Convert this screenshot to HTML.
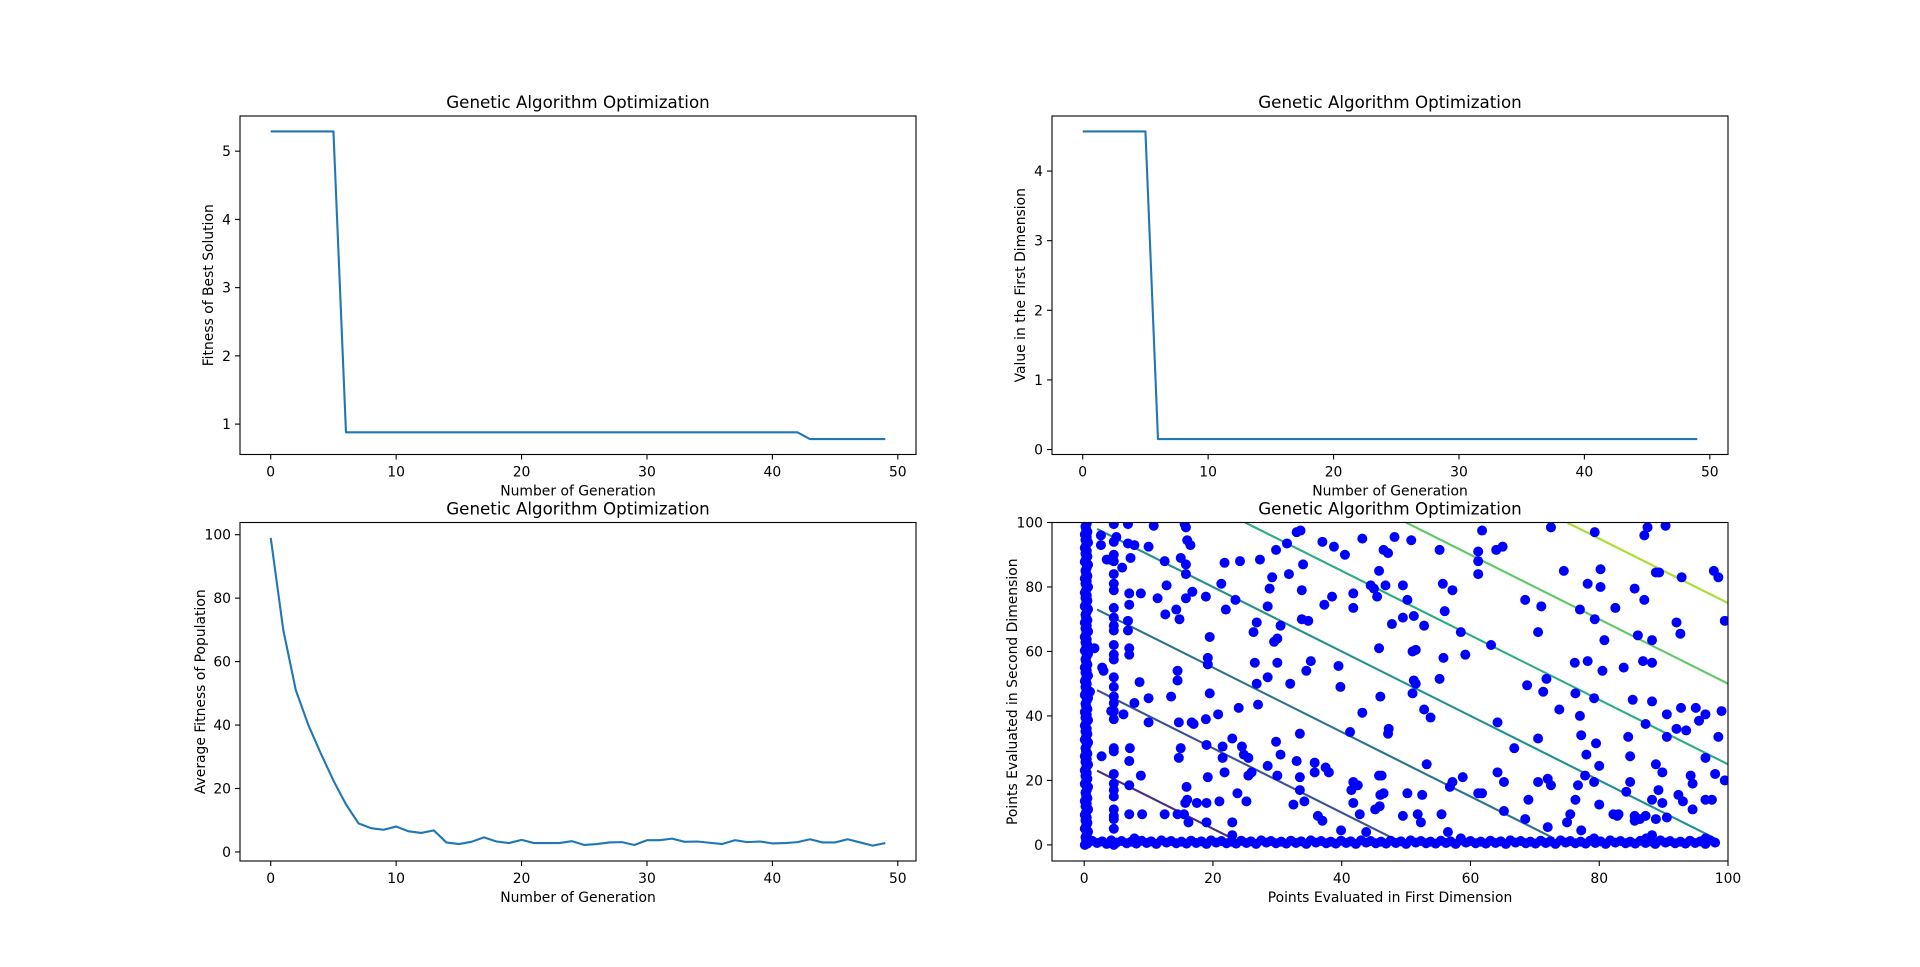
<!DOCTYPE html>
<html><head><meta charset="utf-8">
<style>
html,body{margin:0;padding:0;background:#fff;}
svg{display:block;font-family:"DejaVu Sans","Liberation Sans",sans-serif;}
</style></head>
<body>
<svg id="fig" width="1920" height="967" viewBox="0 0 1920 967" xmlns="http://www.w3.org/2000/svg">
<rect width="1920" height="967" fill="#fff"/>
</svg>
<script>
// ---- data ----
const generations = [0,1,2,3,4,5,6,7,8,9,10,11,12,13,14,15,16,17,18,19,20,21,22,23,24,25,26,27,28,29,30,31,32,33,34,35,36,37,38,39,40,41,42,43,44,45,46,47,48,49];
const bestFitness = [5.29,5.29,5.29,5.29,5.29,5.29,0.88,0.88,0.88,0.88,0.88,0.88,0.88,0.88,0.88,0.88,0.88,0.88,0.88,0.88,0.88,0.88,0.88,0.88,0.88,0.88,0.88,0.88,0.88,0.88,0.88,0.88,0.88,0.88,0.88,0.88,0.88,0.88,0.88,0.88,0.88,0.88,0.88,0.78,0.78,0.78,0.78,0.78,0.78,0.78];
const firstDimValue = [4.57,4.57,4.57,4.57,4.57,4.57,0.15,0.15,0.15,0.15,0.15,0.15,0.15,0.15,0.15,0.15,0.15,0.15,0.15,0.15,0.15,0.15,0.15,0.15,0.15,0.15,0.15,0.15,0.15,0.15,0.15,0.15,0.15,0.15,0.15,0.15,0.15,0.15,0.15,0.15,0.15,0.15,0.15,0.15,0.15,0.15,0.15,0.15,0.15,0.15];
const avgFitness = [99,70,51,40,31,22.5,15,9,7.5,7,8,6.5,6,6.8,3,2.5,3.2,4.6,3.3,2.8,3.8,2.8,2.8,2.8,3.4,2.2,2.5,3,3.1,2.2,3.7,3.7,4.2,3.2,3.3,2.9,2.5,3.7,3.1,3.3,2.7,2.8,3.1,4,3,3,4,3,2,2.8];
const genTicks = [0,10,20,30,40,50];
const bestTicks = [1,2,3,4,5];
const dimTicks = [0,1,2,3,4];
const avgTicks = [0,20,40,60,80,100];
const pointTicks = [0,20,40,60,80,100];
const contourLevels = [25,50,75,100,125,150,175];
const contourColors = ["#472d7b","#3b528b","#2c728e","#21918c","#28ae80","#5ec962","#addc30"];
const scatterPts = [[2.6,93],[2.6,96],[3.5,88.5],[4.6,99.5],[4.6,94],[4.6,90],[4.6,88],[5,95.5],[6.8,93.5],[7.8,93],[6.8,99.5],[10.8,99],[10,92.5],[12.5,88],[15.6,99.5],[15.8,98.5],[16,94.5],[16.5,93],[15,89],[15.8,87],[15.8,84],[16.8,78.5],[15.8,76.5],[12.8,80.5],[11.4,76.5],[8.8,78],[7,78],[7,74.5],[5.9,86],[7.2,89],[4,88.5],[4.6,84],[4.6,81],[4.6,79],[4.6,73.5],[4.6,70.5],[4.6,68],[4.6,66.5],[4.6,62],[4.6,59],[4.6,57.5],[4.6,52],[4.6,49],[4.6,46],[4.6,44],[4.6,41.5],[4.6,39],[4.6,30],[4.6,29],[4.6,22],[4.6,19],[4.6,17],[4.6,15],[4.6,11],[4.6,9],[4.6,8],[4.6,5],[4.6,0],[6.1,40.5],[7.8,44],[8.6,50.5],[6.8,69.5],[6.8,66.5],[7,61],[7,59],[2.8,55],[3,54],[1.6,61],[0.9,47.5],[2.7,27.5],[4.2,41.5],[7.1,30],[7,26],[7,18.5],[7,9.5],[7.8,2],[8.8,21.5],[9,9.5],[10,45.5],[10,38],[12.5,9.5],[12.6,71.5],[13.5,46],[14.3,73],[14.5,54],[14.5,51],[14.8,70],[14.7,38],[15,30],[14.7,27],[14.5,9.5],[15.5,9.5],[15.9,18],[15.7,13],[16,14],[16.2,7],[17.5,13],[16.7,38],[17,37.5],[18.9,77],[18.9,39],[19,31],[19.2,58],[19.2,56],[19.5,47],[19.5,64.5],[19.2,21],[19,13],[19,7],[20.8,40.5],[21.3,81],[21.5,30.5],[21.5,27],[21.8,22.5],[21,13.5],[21.8,87.5],[22,73],[23,7],[23,3],[23,33],[23.5,76],[23.8,16],[24,42.5],[24.2,88],[24.5,30.5],[24.8,28],[25.5,27],[25.5,21.5],[26,22.5],[25.2,13.5],[26.3,66],[26.5,56.5],[26.8,69],[26.8,50],[27,43.5],[27.3,88.5],[28.5,74],[28.5,52],[28.5,24.5],[28.8,79.5],[29.2,83],[29.5,63],[30,64],[30,56.5],[29.8,91.5],[29.8,32],[30,21.5],[30.5,68],[30.5,28],[31.5,93.5],[31.8,84],[32,50],[32.5,12.5],[33,97],[33.6,97.5],[33,26],[33.5,34.5],[33.5,21],[33.5,17],[33.8,70],[33.8,79],[34,87],[34.2,13.5],[34.5,54],[34.8,69.5],[35.2,57],[35.8,25.5],[35.8,22.5],[36.3,9],[37,94],[37,7.5],[37.3,74.5],[37.5,24],[38,22.5],[38.5,77],[38.8,92.5],[39.8,49],[39.5,55.5],[39.9,4.5],[40.5,90],[41.3,35],[41.5,17],[41.8,19.5],[41.8,13],[41.8,78],[41.8,73.5],[42.5,18.5],[42.8,9.5],[43.2,41],[43.2,95],[43.8,4],[44.5,80.5],[45,79.5],[45.2,11],[45.5,77],[45.8,85],[45.8,61],[45.8,21.5],[46,15.5],[45.9,12],[46,46],[46.2,21.5],[46.5,16],[46.5,91.5],[46.8,80.5],[47.2,90.5],[47.3,36],[47.2,34.5],[47.8,68.5],[48.2,95.5],[49.5,70.5],[49.5,80.5],[49.5,9],[50.2,76],[50.2,16],[50.8,94.5],[51,60],[51.5,60.5],[51.2,51],[51.5,50],[51,47],[51.2,71],[51.8,9.5],[52.5,15.5],[52.3,7],[52.8,42],[53.2,25],[52.8,68],[53.8,39.5],[55.2,91.5],[55.2,51.5],[55.7,81],[55.8,58],[55.5,9.5],[56,72.5],[56.5,4],[56.8,18],[57.2,19.5],[57.2,79],[58.5,66],[58.5,2],[59.2,59],[58.8,21],[61.2,91],[61.2,88],[61.2,84],[61.2,16],[61.8,16],[61.8,97.5],[63.2,62],[64,91.5],[65,92.5],[64.2,22.5],[64.2,38],[65.2,19.5],[65.2,10.5],[66.8,30],[68.5,8],[68.5,76],[68.8,49.5],[69,14],[70.5,66],[70.5,33],[70.5,19.5],[71,74],[71.3,47.5],[71.8,51.5],[72,20.5],[72,5.5],[72.5,18.5],[72.5,98.5],[73.8,42],[74.5,85],[75,7],[75.5,9.5],[76.2,56.5],[76.3,47],[76.3,14],[76.7,18.5],[77,73],[77,40],[77.2,34],[77.2,4.5],[77.8,21.5],[78,28],[78.2,81],[78.2,57],[79.3,70],[79.3,97],[79.2,45.5],[79.5,31.5],[79.2,19.5],[79.2,2],[80,24.5],[80,12.5],[80.2,85.5],[80.2,80],[80.5,54],[80.8,63.5],[82.2,9.5],[82.5,73.5],[82.8,9],[83,9.5],[83.8,55],[84.2,16.5],[84.5,33.5],[84.8,19.5],[84.8,27.5],[85.2,45],[85.5,79.5],[85.5,9],[85.5,7.5],[86,65],[86.3,8],[86.8,57],[87,96],[87,76],[87.2,37.5],[87.2,9],[87.3,2],[87.5,98.5],[88.2,63.5],[88.2,56.5],[88.2,44.5],[88.2,14],[88.2,3],[88.8,84.5],[88.8,25],[89.2,17],[88.8,8],[89.3,84.5],[89.8,13],[89.8,22.5],[90.3,99],[90.5,40.5],[90.5,33.5],[90.5,8.5],[92,69],[92,36],[92.3,15.5],[92.6,65.5],[92.7,42.5],[92.8,83],[93,13.5],[93.5,35.5],[94.2,21.5],[94.5,19],[94.5,11],[95,42.5],[95.5,38.5],[96.5,40.5],[96.5,14],[96.5,27],[97.5,14],[97.8,85],[98,22],[98.5,83],[98.5,33.5],[99,41.5],[99.5,20],[99.5,69.5],[96.5,2]];
const edgeColumnY = [0,0.8,1.5,2.4,3.2,4.1,5,5.9,6.8,7.6,8.5,9.3,10.1,11,12,12.8,13.6,14.5,15.4,16.2,17,18,18.9,19.7,20.5,21.4,22.3,23.1,24,24.9,25.8,26.6,27.5,28.3,29.1,30,31,31.8,32.6,33.5,34.4,35.2,36,37,37.9,38.7,39.5,40.3,41.2,42.1,43,43.8,44.7,45.6,46.5,47.3,48.1,49,50,50.8,51.6,52.5,53.4,54.2,55,55.9,56.8,57.6,58.5,59.3,60.2,61.1,62,62.8,63.7,64.5,65.4,66.2,67.1,68,68.9,69.7,70.5,71.4,72.3,73.1,74,74.9,75.8,76.6,77.4,78.2,79.1,80,81,81.8,82.6,83.4,84.3,85.1,86,86.9,87.8,88.6,89.5,90.3,91.2,92.1,93,93.8,94.6,95.4,96.3,97.1,98,98.8,99.7];
const edgeColumnX = [0.1,0.5,0.3,0.2,0.4,0.6,0.1,0.3,0.5,0.2,0.4,0.1,0.3,0.6,0.2,0.4,0.1,0.5,0.3,0.2,0.4,0.6,0.1,0.3,0.5,0.2,0.4,0.1,0.3,0.6,0.2,0.4,0.1,0.5,0.3,0.2,0.4,0.6,0.1,0.3,0.5,0.2,0.4,0.1,0.3,0.6,0.2,0.4,0.1,0.5,0.3,0.2,0.4,0.6,0.1,0.3,0.5,0.2,0.4,0.1,0.3,0.6,0.2,0.4,0.1,0.5,0.3,0.2,0.4,0.6,0.1,0.3,0.5,0.2,0.4,0.1,0.3,0.6,0.2,0.4,0.1,0.5,0.3,0.2,0.4,0.6,0.1,0.3,0.5,0.2,0.4,0.1,0.3,0.6,0.2,0.4,0.1,0.5,0.3,0.2,0.4,0.6,0.1,0.3,0.5,0.2,0.4,0.1,0.3,0.6,0.2,0.4,0.1,0.5,0.3,0.2,0.4,0.6];
const edgeRowX = [0.5,1.2,2,2.8,3.5,4.2,5,5.8,6.6,7.3,8.1,8.9,9.7,10.4,11.2,12,12.8,13.5,14.3,15.1,15.9,16.6,17.4,18.2,19,19.7,20.5,21.3,22.1,22.8,23.6,24.4,25.2,25.9,26.7,27.5,28.3,29,29.8,30.6,31.4,32.1,32.9,33.7,34.5,35.2,36,36.8,37.6,38.3,39.1,39.9,40.7,41.4,42.2,43,43.8,44.5,45.3,46.1,46.9,47.6,48.4,49.2,50,50.7,51.5,52.3,53.1,53.8,54.6,55.4,56.2,56.9,57.7,58.5,59.3,60,60.8,61.6,62.4,63.1,63.9,64.7,65.5,66.2,67,67.8,68.6,69.3,70.1,70.9,71.7,72.4,73.2,74,74.8,75.5,76.3,77.1,77.9,78.6,79.4,80.2,81,81.7,82.5,83.3,84.1,84.8,85.6,86.4,87.2,87.9,88.7,89.5,90.3,91,91.8,92.6,93.4,94.1,94.9,95.7,96.5,97.2,98,98.8,99.5];
const edgeRowY = [0.4,1.3,0.6,1.1,0.3,1.4,0.7,1.2,0.5,1.0,0.4,1.3,0.6,1.1,0.3,1.4,0.7,1.2,0.5,1.0,0.4,1.3,0.6,1.1,0.3,1.4,0.7,1.2,0.5,1.0,0.4,1.3,0.6,1.1,0.3,1.4,0.7,1.2,0.5,1.0,0.4,1.3,0.6,1.1,0.3,1.4,0.7,1.2,0.5,1.0,0.4,1.3,0.6,1.1,0.3,1.4,0.7,1.2,0.5,1.0,0.4,1.3,0.6,1.1,0.3,1.4,0.7,1.2,0.5,1.0,0.4,1.3,0.6,1.1,0.3,1.4,0.7,1.2,0.5,1.0,0.4,1.3,0.6,1.1,0.3,1.4,0.7,1.2,0.5,1.0,0.4,1.3,0.6,1.1,0.3,1.4,0.7,1.2,0.5,1.0,0.4,1.3,0.6,1.1,0.3,1.4,0.7,1.2,0.5,1.0,0.4,1.3,0.6,1.1,0.3,1.4,0.7,1.2,0.5,1.0,0.4,1.3,0.6,1.1,0.3,1.4,0.7];

const NS='http://www.w3.org/2000/svg';
const svg=document.getElementById('fig');
function el(tag,attrs,parent){const e=document.createElementNS(NS,tag);for(const k in attrs)e.setAttribute(k,attrs[k]);(parent||svg).appendChild(e);return e;}
function ext(arr){const mn=Math.min(...arr),mx=Math.max(...arr),m=(mx-mn)*0.05;return [mn-m,mx+m];}

function makeAxes(id,box,xlim,ylim,xticks,yticks,title,xlabel,ylabel){
  const g=el('g',{});
  
  
  const [L,T,R,B]=box;
  const sx=v=>L+(v-xlim[0])/(xlim[1]-xlim[0])*(R-L);
  const sy=v=>B-(v-ylim[0])/(ylim[1]-ylim[0])*(B-T);
  const cp=el('clipPath',{id:id+'-clip'},g);
  el('rect',{x:L,y:T,width:R-L,height:B-T},cp);
  const plot=el('g',{'clip-path':'url(#'+id+'-clip)'},g);
  xticks.forEach(t=>{const x=sx(t);
    el('line',{x1:x,x2:x,y1:B,y2:B+5,stroke:'#000','stroke-width':1.1},g);
    const tx=el('text',{x:x,y:B+22,'text-anchor':'middle','font-size':13.9,fill:'#000'},g);tx.textContent=t;
    
    });
  yticks.forEach(t=>{const y=sy(t);
    el('line',{x1:L-5,x2:L,y1:y,y2:y,stroke:'#000','stroke-width':1.1},g);
    const tx=el('text',{x:L-9,y:y+5,'text-anchor':'end','font-size':13.9,fill:'#000'},g);tx.textContent=t;
    
    });
  const tt=el('text',{x:(L+R)/2,y:T-8,'text-anchor':'middle','font-size':16.7,fill:'#000'},g);tt.textContent=title;
  
  
  const xl=el('text',{x:(L+R)/2,y:B+41,'text-anchor':'middle','font-size':13.9,fill:'#000'},g);xl.textContent=xlabel;
  
  
  const yx=L-ylabelOffset[id];
  const yl=el('text',{x:yx,y:(T+B)/2,'text-anchor':'middle','font-size':13.9,fill:'#000',transform:'rotate(-90 '+yx+' '+(T+B)/2+')'},g);yl.textContent=ylabel;
  
  
  return {g,plot,sx,sy,frame:()=>{const f=el('rect',{x:L,y:T,width:R-L,height:B-T,fill:'none',stroke:'#000','stroke-width':1.1},g);
    
    }};
}
const ylabelOffset={'best-fitness-chart':27,'first-dim-chart':27,'avg-fitness-chart':35,'points-chart':35};

function lineSeries(ax,xs,ys,name){
  const d=xs.map((x,i)=>(i?'L':'M')+ax.sx(x).toFixed(2)+' '+ax.sy(ys[i]).toFixed(2)).join(' ');
  const p=el('path',{d:d,fill:'none',stroke:'#1f77b4','stroke-width':2.1,'stroke-linejoin':'round'},ax.plot);
  
  
}

const colL=[240,916],colR=[1052,1728],rowT=[116,454.5],rowB=[522.5,861];

const a1=makeAxes('best-fitness-chart',[colL[0],rowT[0],colL[1],rowT[1]],ext(generations),ext(bestFitness),genTicks,bestTicks,'Genetic Algorithm Optimization','Number of Generation','Fitness of Best Solution');
lineSeries(a1,generations,bestFitness,'best-fitness-line');a1.frame();

const a2=makeAxes('first-dim-chart',[colR[0],rowT[0],colR[1],rowT[1]],ext(generations),ext(firstDimValue),genTicks,dimTicks,'Genetic Algorithm Optimization','Number of Generation','Value in the First Dimension');
lineSeries(a2,generations,firstDimValue,'first-dim-line');a2.frame();

const a3=makeAxes('avg-fitness-chart',[colL[0],rowB[0],colL[1],rowB[1]],ext(generations),ext(avgFitness),genTicks,avgTicks,'Genetic Algorithm Optimization','Number of Generation','Average Fitness of Population');
lineSeries(a3,generations,avgFitness,'avg-fitness-line');a3.frame();

const a4=makeAxes('points-chart',[colR[0],rowB[0],colR[1],rowB[1]],[-5,100],[-5,100],pointTicks,pointTicks,'Genetic Algorithm Optimization','Points Evaluated in First Dimension','Points Evaluated in Second Dimension');
contourLevels.forEach((c,i)=>{
  const lo=2,hi=100;
  const x1=Math.max(lo,c-hi),y1=c-x1;
  const y2=Math.max(lo,c-hi),x2=c-y2;
  const ln=el('line',{x1:a4.sx(x1),y1:a4.sy(Math.min(y1,hi)),x2:a4.sx(Math.min(x2,hi)),y2:a4.sy(y2),stroke:contourColors[i],'stroke-width':2.1},a4.plot);
  
  
});
function dot(x,y){
  const c=el('circle',{cx:a4.sx(x),cy:a4.sy(y),r:5,fill:'#0000ff'},a4.plot);
  
  
}
edgeRowX.forEach((x,i)=>dot(x,edgeRowY[i]));
edgeColumnY.forEach((y,i)=>dot(edgeColumnX[i],y));
scatterPts.forEach(p=>dot(p[0],p[1]));
a4.frame();
</script>
</body></html>
